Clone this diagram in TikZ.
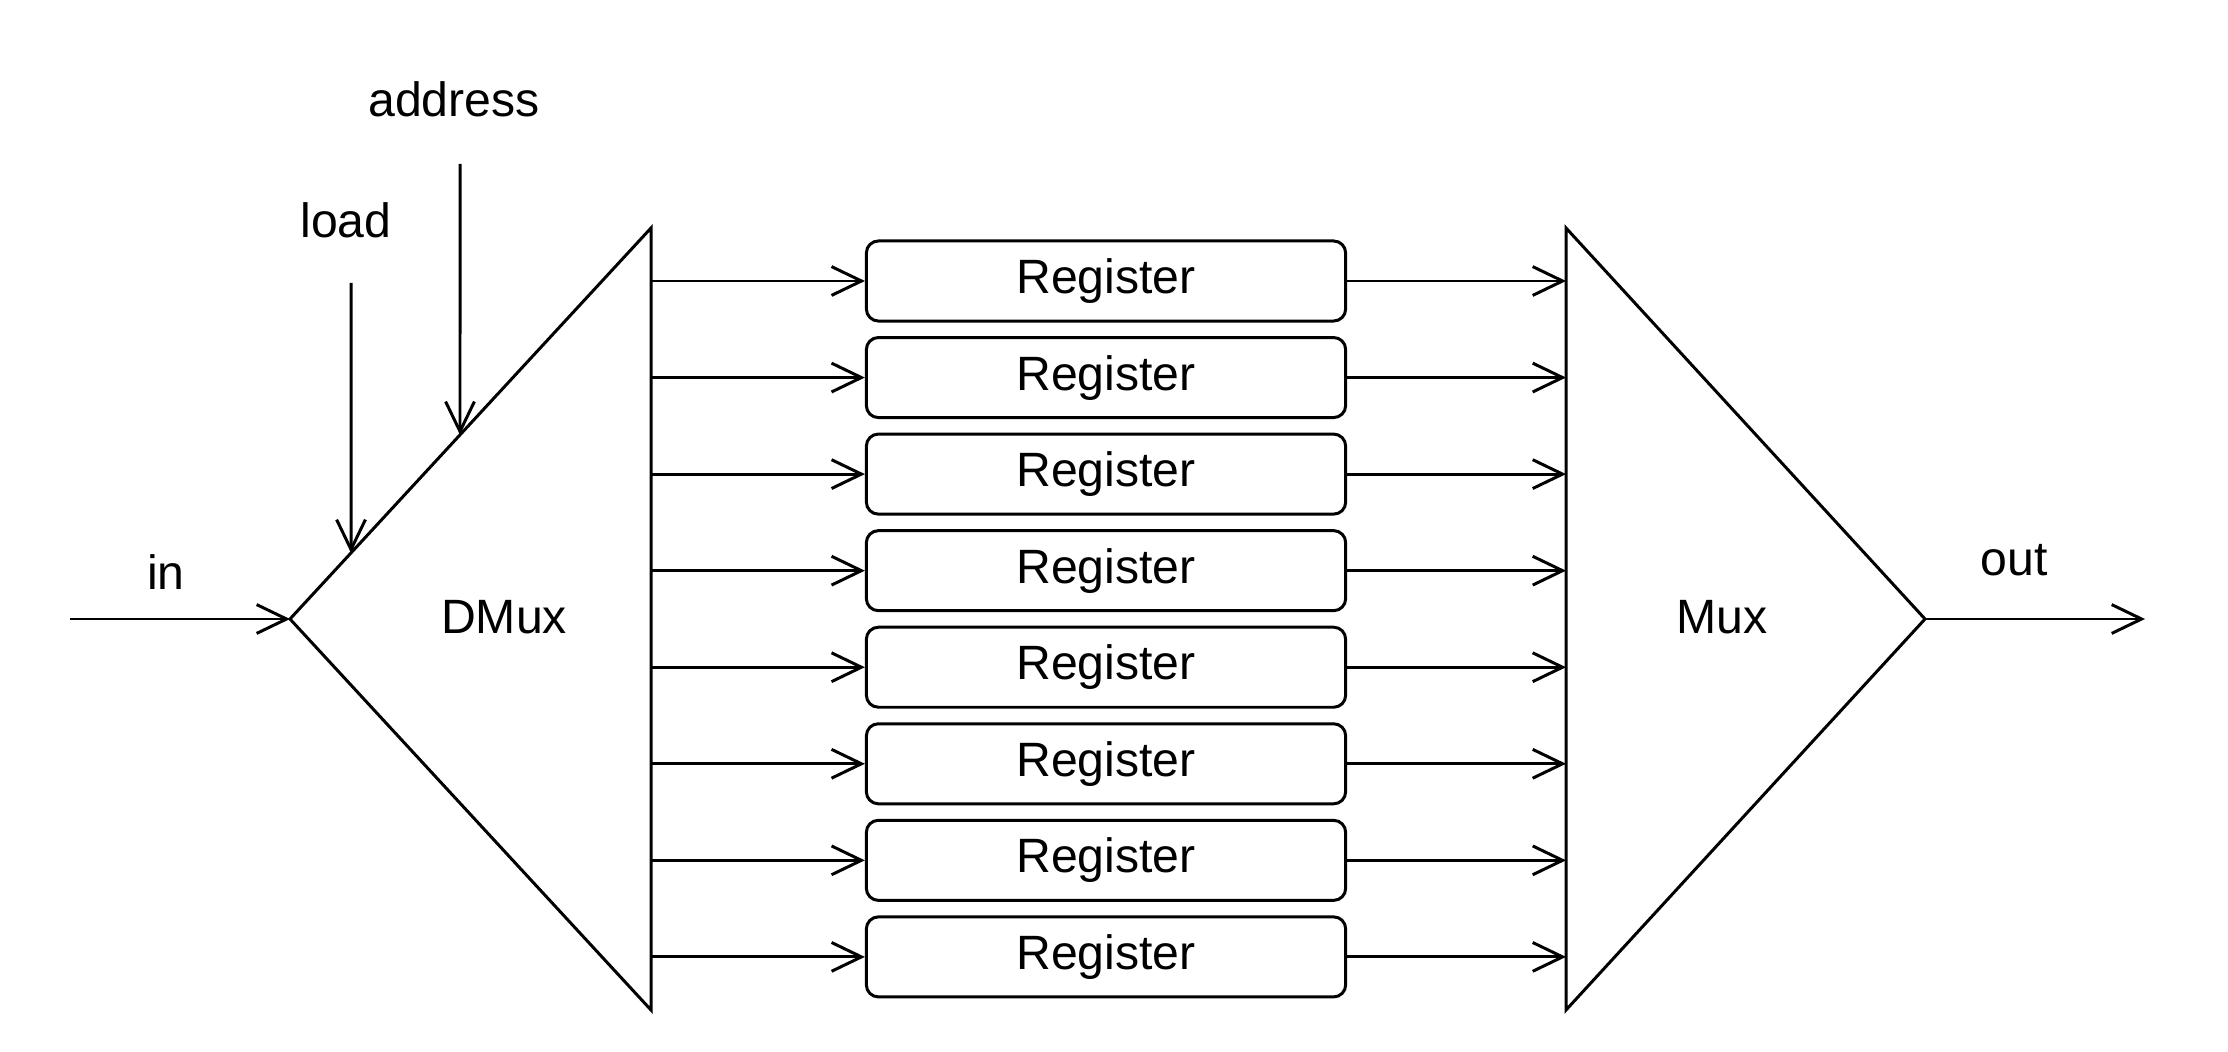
\documentclass[tikz,border=0pt]{standalone}
\usepackage{fontspec}
\setmainfont{Liberation Sans}
\usetikzlibrary{arrows.meta}
\usetikzlibrary{calc}

\begin{document}
\begin{tikzpicture}[x=0.01cm,y=-0.01cm,>={Straight Barb[length=8.5pt,width=8.2pt]},
                    line width=0.85pt,node distance=0.965cm,
                    reg node/.style={draw,rounded corners=0.12cm,minimum width=4.79cm,minimum height=0.8cm,inner sep=0pt,font=\fontsize{13.7}{16}\selectfont},
                    lbl/.style={font=\fontsize{13.7}{16}\selectfont}]
\useasboundingbox (0,0) rectangle (2228,1052);

% dmux
\coordinate (dl) at (290,619);
\coordinate (dt) at (651,228);
\coordinate (db) at (651,1010);
\draw (dl) -- (dt) -- (db) -- cycle;
\node[lbl] (dmux) at (504,617) {DMux};

% mux
\coordinate (mt) at (1566,228);
\coordinate (mb) at (1566,1010);
\coordinate (mr) at (1925,619);
\draw (mt) -- (mr) -- (mb) -- cycle;
\node[lbl] (mux) at (1722,617) {Mux};

\node[reg node] (r1) at (1106,281) {Register};
\node[reg node] (r2) [below of=r1] {Register};
\node[reg node] (r3) [below of=r2] {Register};
\node[reg node] (r4) [below of=r3] {Register};
\node[reg node] (r5) [below of=r4] {Register};
\node[reg node] (r6) [below of=r5] {Register};
\node[reg node] (r7) [below of=r6] {Register};
\node[reg node] (r8) [below of=r7] {Register};

% inputs
\coordinate (inw) at (70,619);
\node[lbl] (in) at (166,572) {in};
\node[lbl] (load) at (346,220) {load};
\coordinate (loadtop) at (351,283);
\coordinate (loadtip) at ($(dl)!0.169!(dt)$);
\node[lbl] (address) at (454,99) {address};
\coordinate (addrtop) at (460,164);
\coordinate (addrtip) at ($(dl)!0.4709!(dt)$);

% output
\coordinate (oute) at (2145,619);
\node[lbl] (out) at (2014,560) {out};

\draw[->] (inw) -- (dl);
\draw[->] (loadtop) -- (loadtip);
\draw[->] (addrtop) -- (addrtip);
\draw[->] (mr) -- (oute);

\draw[->] (r1.west -| dt) -- (r1.west);
\draw[->] (r2.west -| dt) -- (r2.west);
\draw[->] (r3.west -| dt) -- (r3.west);
\draw[->] (r4.west -| dt) -- (r4.west);
\draw[->] (r5.west -| dt) -- (r5.west);
\draw[->] (r6.west -| dt) -- (r6.west);
\draw[->] (r7.west -| dt) -- (r7.west);
\draw[->] (r8.west -| dt) -- (r8.west);

\draw[->] (r1.east) -- (r1.east -| mt);
\draw[->] (r2.east) -- (r2.east -| mt);
\draw[->] (r3.east) -- (r3.east -| mt);
\draw[->] (r4.east) -- (r4.east -| mt);
\draw[->] (r5.east) -- (r5.east -| mt);
\draw[->] (r6.east) -- (r6.east -| mt);
\draw[->] (r7.east) -- (r7.east -| mt);
\draw[->] (r8.east) -- (r8.east -| mt);

\end{tikzpicture}
\end{document}
